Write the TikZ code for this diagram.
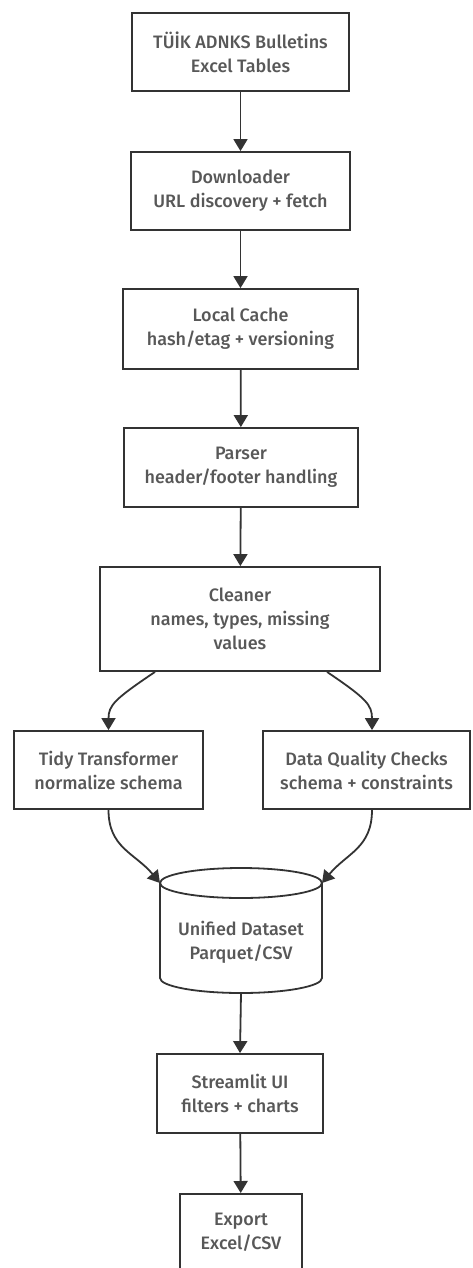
\documentclass[tikz,border=0pt]{standalone}
\usepackage{fontspec}
\setmainfont{Fira Sans}[UprightFont=* Medium]
\usetikzlibrary{arrows.meta,calc}
\definecolor{ink}{HTML}{333333}
\definecolor{txt}{HTML}{585858}
\tikzset{
  box/.style={draw=ink, line width=1.8pt, fill=white, align=center, text=txt,
    font=\fontsize{18}{24}\selectfont, inner sep=0pt},
  arr/.style={draw=ink, line width=1.8pt, -{Triangle[width=14pt,length=12pt]}},
}
\begin{document}
\begin{tikzpicture}[x=1pt,y=-1pt]
\useasboundingbox[fill=white] (0,0) rectangle (472,1268);
\node[box, minimum width=217pt, minimum height=78pt] (src) at (240.5,52) {TÜİK ADNKS Bulletins\\Excel Tables};
\node[box, minimum width=219pt, minimum height=78pt] (dl) at (240.5,191) {Downloader\\URL discovery + fetch};
\node[box, minimum width=235pt, minimum height=80pt] (cache) at (240.5,329) {Local Cache\\hash/etag + versioning};
\node[box, minimum width=234pt, minimum height=79pt] (parse) at (241,467.5) {Parser\\header/footer handling};
\node[box, minimum width=280pt, minimum height=104pt] (clean) at (240,619) {Cleaner\\names, types, missing\\values};
\node[box, minimum width=189pt, minimum height=78pt] (tidy) at (108.5,770) {Tidy Transformer\\normalize schema};
\node[box, minimum width=207pt, minimum height=78pt] (dq) at (366.5,770) {Data Quality Checks\\schema + constraints};
% cylinder
\coordinate (cylL) at (160,883);
\coordinate (cylR) at (322,883);
\path[draw=ink, line width=1.8pt, fill=white]
  (160,883) -- (160,978) arc[start angle=180, end angle=360, x radius=81, y radius=-15]
  -- (322,883) arc[start angle=0, end angle=180, x radius=81, y radius=-15] -- cycle;
\draw[ink, line width=1.8pt] (160,883) arc[start angle=180, end angle=360, x radius=81, y radius=-15];
\node[align=center, text=txt, font=\fontsize{18}{24}\selectfont] (uni) at (241,942) {Unified Dataset\\Parquet/CSV};
\node[box, minimum width=166pt, minimum height=79pt] (ui) at (240,1093.5) {Streamlit UI\\filters + charts};
\node[box, minimum width=122pt, minimum height=76pt, anchor=north] (exp) at (241,1193) {Export\\Excel/CSV};
% connectors
\draw[arr] (src) -- (dl);
\draw[arr] (dl) -- (cache);
\draw[arr] (cache) -- (parse);
\draw[arr] (parse) -- (clean);
\draw[arr] ([xshift=-85pt]clean.south) .. controls +(-40,27) and +(0,-25) .. (tidy.north);
\draw[arr] ([xshift=87pt]clean.south) .. controls +(40,27) and +(0,-25) .. ([xshift=5.5pt]dq.north);
\draw[arr] (tidy.south) .. controls +(0,38) and +(-25,-30) .. (cylL);
\draw[arr] ([xshift=5.5pt]dq.south) .. controls +(0,38) and +(25,-30) .. (cylR);
\draw[arr] (241,993) -- (ui.north);
\draw[arr] (ui) -- (exp);
\end{tikzpicture}
\end{document}
